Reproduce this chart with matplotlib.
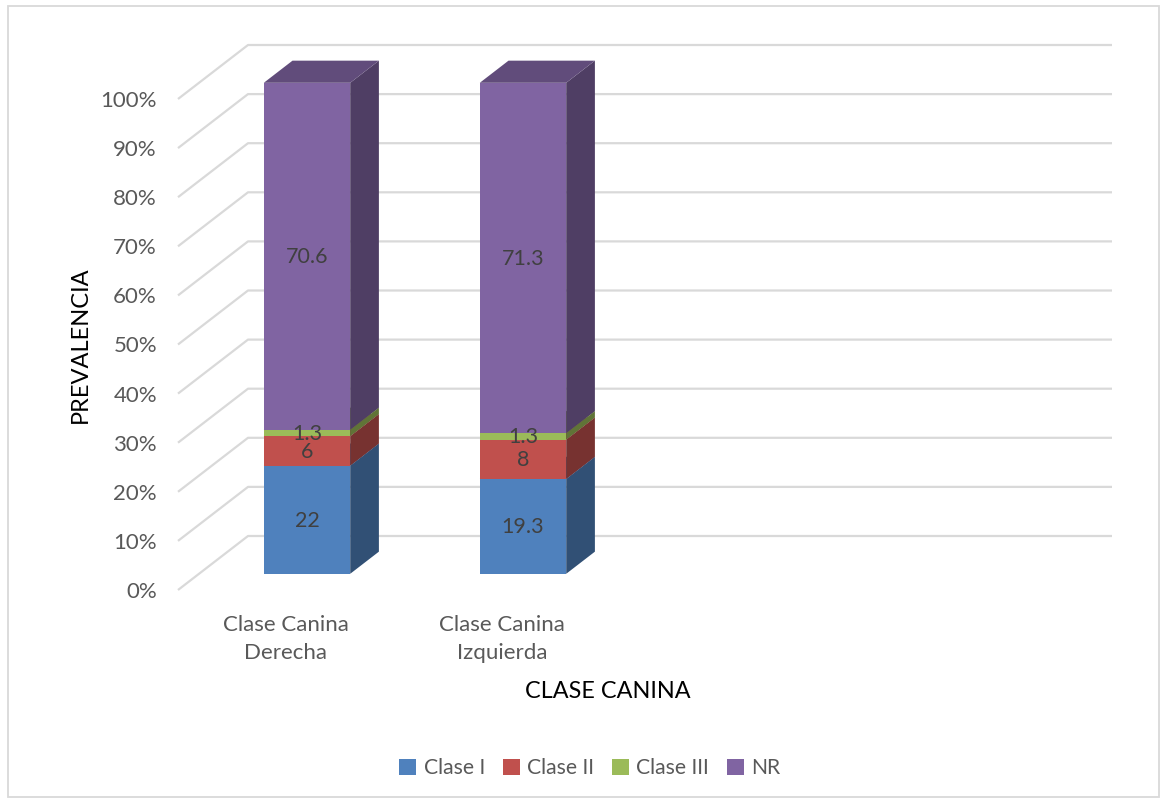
import numpy as np
import matplotlib.pyplot as plt
from matplotlib.patches import Polygon, Patch, Rectangle
from matplotlib.colors import to_rgb

plt.rcParams['font.family'] = ['Lato', 'DejaVu Sans']

# datos de prevalencia (%) por clase canina
categorias = ["Clase Canina\nDerecha", "Clase Canina\nIzquierda"]
series = ["Clase I", "Clase II", "Clase III", "NR"]
clase_1 = [22, 19.3]
clase_2 = [6, 8]
clase_3 = [1.3, 1.3]
nr = [70.6, 71.3]
colores = ["#4F81BD", "#C0504D", "#9BBB59", "#8064A2"]
ticks = np.arange(0, 101, 10)
n_slots = 4  # el eje tiene 4 posiciones, solo 2 ocupadas

valores = np.array([clase_1, clase_2, clase_3, nr])

# geometria de la vista oblicua (en pixeles de la figura)
X0, X1 = 178, 1042     # plano frontal, izquierda/derecha
Y0, H = 590, 491       # 0% y altura de 100% en el plano frontal
DX, DY = 70, 54        # desplazamiento hacia el fondo
Z_FRONT, Z_BACK = 0.30, 0.71
ANCHO = 0.4


def proj(x, v, z):
    return (x + z * DX, Y0 - v * H - z * DY)


def shade(c, f):
    return tuple(np.array(to_rgb(c)) * f)


fig = plt.figure(figsize=(11.65, 8.01), dpi=100)
ax = fig.add_axes([0, 0, 1, 1])
ax.set_xlim(0, 1165)
ax.set_ylim(801, 0)
ax.axis('off')

ax.add_patch(Rectangle((8, 6), 1151, 791, fill=False, ec="#D9D9D9", lw=1.3))

grid = "#D9D9D9"
for t in ticks:
    v = t / 100
    pa = proj(X0, v, 0)
    pb = proj(X0, v, 1)
    pc = proj(X1, v, 1)
    ax.plot([pa[0], pb[0], pc[0]], [pa[1], pb[1], pc[1]], color=grid, lw=1.6,
            solid_capstyle='butt', zorder=1)
    ax.text(pa[0] - 21, pa[1] + 2, f"{t}%", ha='right', va='center',
            fontsize=16, color="#595959")

slot = (X1 - X0) / n_slots
totales = valores.sum(axis=0)
for i, cat in enumerate(categorias):
    xc = X0 + slot * (i + 0.5)
    xa, xb = xc - slot * ANCHO / 2, xc + slot * ANCHO / 2
    base = 0.0
    for s in range(len(series)):
        val = valores[s, i]
        v0 = base / totales[i]
        v1 = (base + val) / totales[i]
        col = colores[s]
        front = [proj(xa, v0, Z_FRONT), proj(xb, v0, Z_FRONT),
                 proj(xb, v1, Z_FRONT), proj(xa, v1, Z_FRONT)]
        side = [proj(xb, v0, Z_FRONT), proj(xb, v0, Z_BACK),
                proj(xb, v1, Z_BACK), proj(xb, v1, Z_FRONT)]
        top = [proj(xa, v1, Z_FRONT), proj(xb, v1, Z_FRONT),
               proj(xb, v1, Z_BACK), proj(xa, v1, Z_BACK)]
        ax.add_patch(Polygon(side, closed=True, fc=shade(col, 0.62), ec='none', zorder=3))
        ax.add_patch(Polygon(top, closed=True, fc=shade(col, 0.76), ec='none', zorder=3))
        ax.add_patch(Polygon(front, closed=True, fc=col, ec='none', zorder=3))
        cx, cy = proj(xc, (v0 + v1) / 2, Z_FRONT)
        ax.text(cx, cy + 1, f"{val:g}", ha='center', va='center', fontsize=15.5,
                color="#404040", zorder=5)
        base += val
    lx, ly = proj(xc, 0, 0)
    ax.text(lx, ly + 49, cat, ha='center', va='center', fontsize=16,
            color="#595959", linespacing=1.45)

ax.text(80, 345, "PREVALENCIA", rotation=90, ha='center', va='center',
        fontsize=17, color="#000000")
ax.text(608, 691, "CLASE CANINA", ha='center', va='center',
        fontsize=16.8, color="#000000")

handles = [Patch(fc=c, ec='none') for c in colores]
leg = fig.legend(handles, series, loc='center', bbox_to_anchor=(590 / 1165, 1 - 768 / 801),
                 ncol=4, frameon=False, fontsize=15.2, handlelength=0.8, handleheight=0.8,
                 handletextpad=0.35, columnspacing=0.85)
for t in leg.get_texts():
    t.set_color("#595959")

fig.savefig("out.png", dpi=100)
